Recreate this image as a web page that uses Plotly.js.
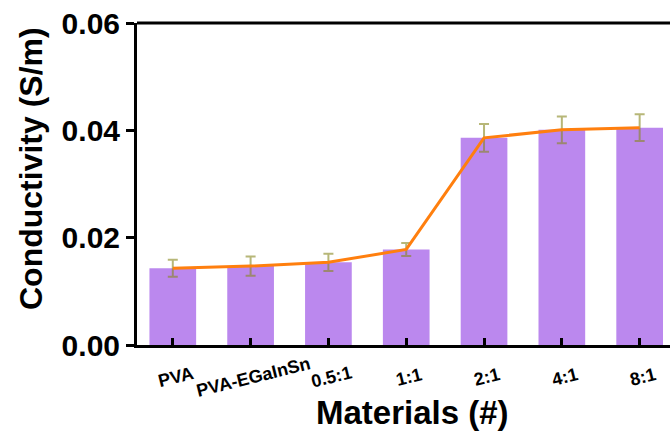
<!DOCTYPE html>
<html>
<head>
<meta charset="utf-8">
<script src="https://cdn.plot.ly/plotly-3.0.1.min.js"></script>
<style>
  html, body { margin: 0; padding: 0; background: #ffffff; }
  #chart { width: 670px; height: 434px; }
</style>
</head>
<body>
<div id="chart"></div>
<script>
// Conductivity of PVA hydrogels with different EGaInSn ratios
const materials = ["PVA", "PVA-EGaInSn", "0.5:1", "1:1", "2:1", "4:1", "8:1"];
const conductivity = [0.0143, 0.0147, 0.0154, 0.0178, 0.0386, 0.0401, 0.0405];
const conductivityErr = [0.0016, 0.0018, 0.0016, 0.0012, 0.0026, 0.0025, 0.0025];
const yTicks = [0, 0.02, 0.04, 0.06];
const yTickText = ["0.00", "0.02", "0.04", "0.06"];
const xTitle = "Materials (#)";
const yTitle = "Conductivity (S/m)";

const font = "Liberation Sans, Arial, sans-serif";

const bars = {
  type: "bar",
  x: materials,
  y: conductivity,
  width: 0.6,
  marker: { color: "#bb88ee", line: { width: 0 } },
  error_y: {
    type: "data",
    array: conductivityErr,
    visible: true,
    color: "rgba(135,135,30,0.6)",
    thickness: 2,
    width: 5
  },
  hoverinfo: "x+y"
};

const trend = {
  type: "scatter",
  mode: "lines",
  x: materials,
  y: conductivity,
  line: { color: "#ff7f0e", width: 3 },
  hoverinfo: "skip"
};

// Slanted category labels, each centred under its tick
const categoryLabels = materials.map(name => ({
  x: name,
  xref: "x",
  y: 0,
  yref: "paper",
  yshift: -32,
  xshift: 3,
  xanchor: "center",
  yanchor: "middle",
  textangle: -14,
  showarrow: false,
  text: name,
  font: { family: font, size: 18, color: "#000000", weight: "bold" }
}));

const axisTitles = [
  {
    x: 0.516, xref: "paper",
    y: 0, yref: "paper", yshift: -67,
    xanchor: "center", yanchor: "middle",
    showarrow: false,
    text: xTitle,
    font: { family: font, size: 33, color: "#000000", weight: "bold" }
  },
  {
    x: 0, xref: "paper", xshift: -106,
    y: 0.5466, yref: "paper",
    xanchor: "center", yanchor: "middle",
    textangle: -90,
    showarrow: false,
    text: yTitle,
    font: { family: font, size: 32, color: "#000000", weight: "bold" }
  }
];

const layout = {
  width: 670,
  height: 434,
  margin: { l: 137, r: 0, t: 23, b: 89 },
  paper_bgcolor: "#ffffff",
  plot_bgcolor: "#ffffff",
  showlegend: false,
  xaxis: {
    type: "category",
    range: [-0.46, 6.39],
    showline: true,
    linecolor: "#000000",
    linewidth: 3,
    showgrid: false,
    zeroline: false,
    ticks: "inside",
    ticklen: 7,
    tickwidth: 3,
    tickcolor: "#000000",
    showticklabels: false
  },
  yaxis: {
    range: [0, 0.06],
    tickvals: yTicks,
    ticktext: yTickText,
    showline: true,
    linecolor: "#000000",
    linewidth: 3,
    showgrid: false,
    zeroline: false,
    ticks: "outside",
    ticklen: 8,
    tickwidth: 3,
    tickcolor: "#000000",
    tickfont: { family: font, size: 30, color: "#000000", weight: "bold" }
  },
  annotations: categoryLabels.concat(axisTitles),
  shapes: [
    {
      type: "line",
      xref: "paper", yref: "paper",
      x0: 0, x1: 1, y0: 1, y1: 1,
      line: { color: "#000000", width: 3 }
    }
  ]
};

Plotly.newPlot("chart", [bars, trend], layout, { displayModeBar: false, staticPlot: true });
</script>
</body>
</html>
